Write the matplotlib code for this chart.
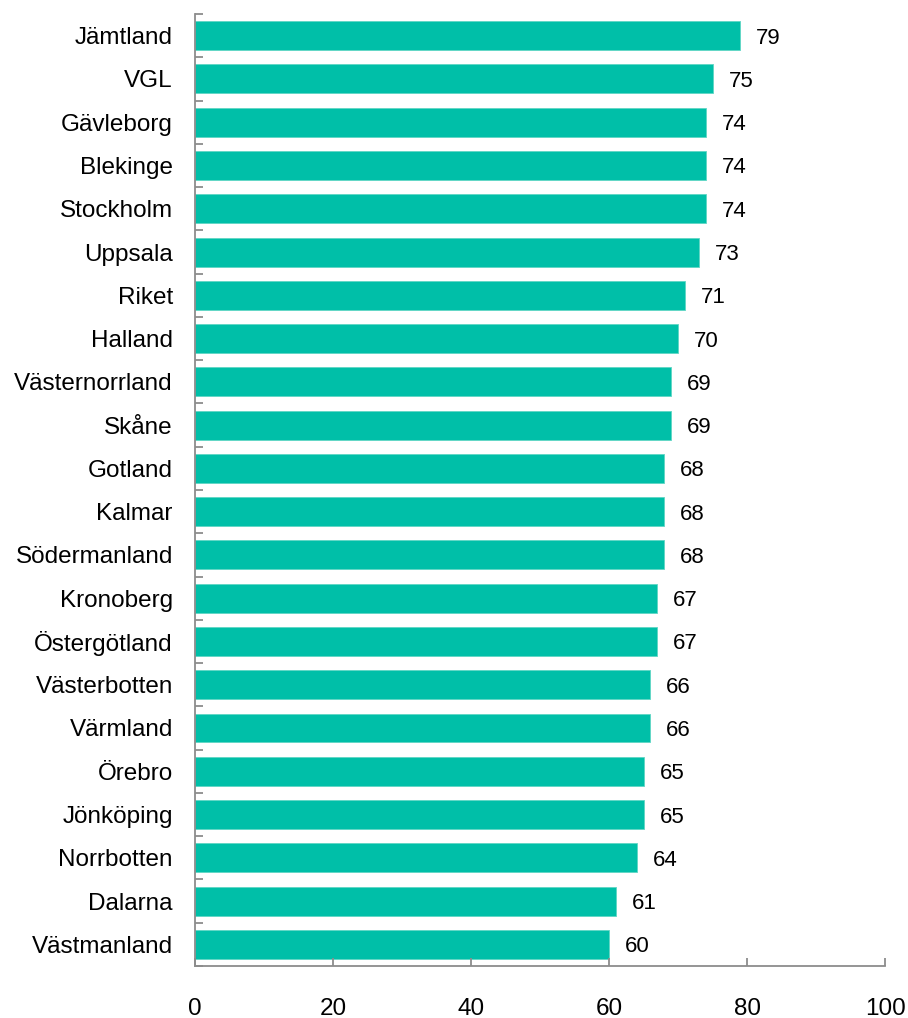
import matplotlib.pyplot as plt
import numpy as np

plt.rcParams['font.family'] = ['Liberation Sans', 'DejaVu Sans']

# data (top to bottom)
regions = ['Jämtland', 'VGL', 'Gävleborg', 'Blekinge', 'Stockholm', 'Uppsala',
           'Riket', 'Halland', 'Västernorrland', 'Skåne', 'Gotland', 'Kalmar',
           'Södermanland', 'Kronoberg', 'Östergötland', 'Västerbotten', 'Värmland',
           'Örebro', 'Jönköping', 'Norrbotten', 'Dalarna', 'Västmanland']
values = [79, 75, 74, 74, 74, 73, 71, 70, 69, 69, 68, 68, 68, 67, 67, 66, 66,
          65, 65, 64, 61, 60]
xticks = [0, 20, 40, 60, 80, 100]

fig = plt.figure(figsize=(9.08, 10.18), dpi=100)
ax = fig.add_axes([0.2148, 0.0511, 0.7599, 0.9351])

y = np.arange(len(regions))
bars = ax.barh(y, values, height=0.67, color='#00BFA8', edgecolor='#5fd6c4', linewidth=0.6)
for yi, v in zip(y, values):
    ax.text(v + 2.3, yi, str(v), va='center_baseline', ha='left', fontsize=16)

ax.set_xlim(0, 100)
ax.set_ylim(len(regions) - 0.5, -0.5)
ax.set_yticks(y)
ax.set_yticklabels(regions, fontsize=17.5)
ax.set_yticks(np.arange(len(regions) + 1) - 0.5, minor=True)
ax.set_xticks(xticks)
ax.set_xticklabels([str(t) for t in xticks], fontsize=17.5)

gray = '#8c8c8c'
for s in ['top', 'right']:
    ax.spines[s].set_visible(False)
for s in ['left', 'bottom']:
    ax.spines[s].set_color(gray)
    ax.spines[s].set_linewidth(1.3)
ax.tick_params(axis='y', which='major', length=0, pad=16)
ax.tick_params(axis='y', which='minor', direction='in', length=6, color=gray, width=1.3)
ax.tick_params(axis='x', which='major', direction='in', length=6, color=gray, width=1.3, pad=23)

fig.savefig('out.png', dpi=100)
